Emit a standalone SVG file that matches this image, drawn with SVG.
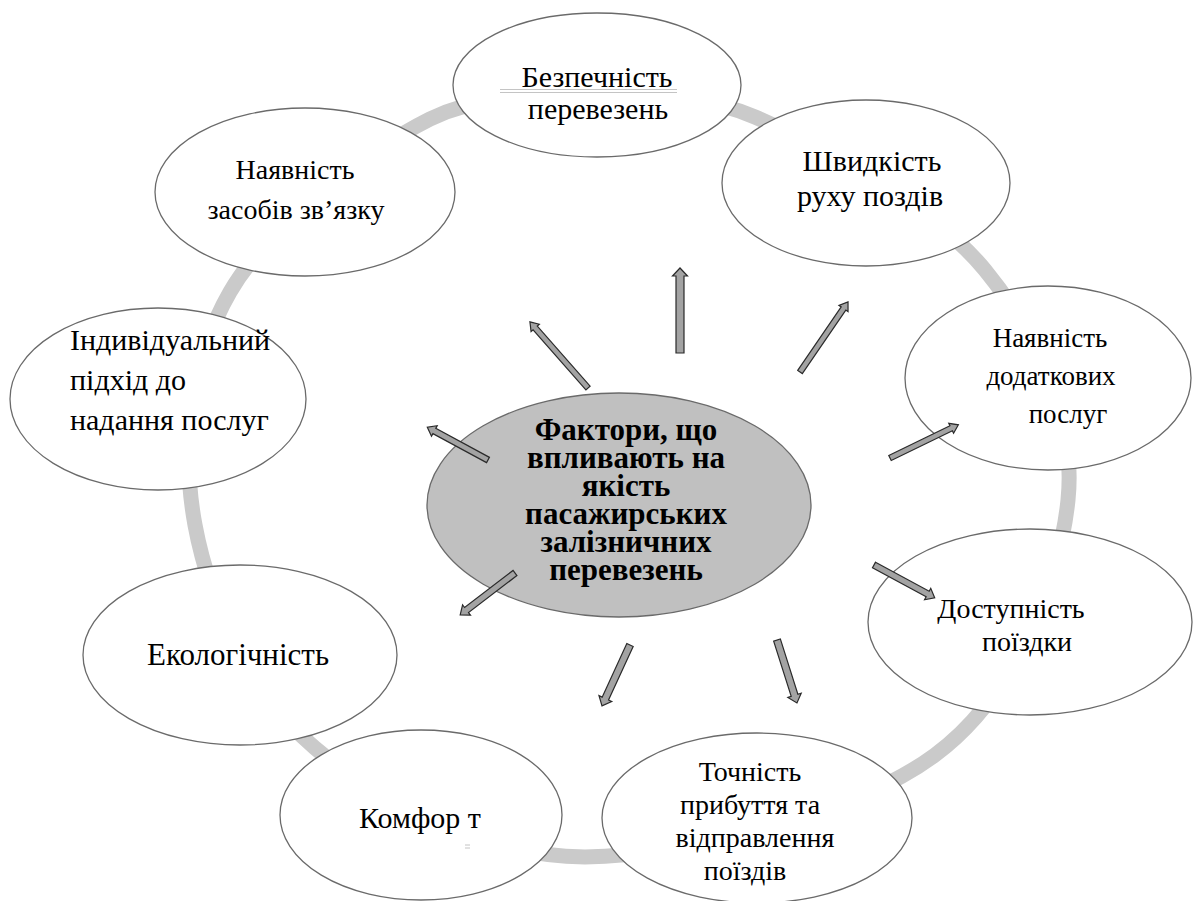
<svg xmlns="http://www.w3.org/2000/svg" width="1197" height="901" viewBox="0 0 1197 901">
<style>
.node{fill:#fff;stroke:#6a6a6a;stroke-width:1.3}
.t{font-family:"Liberation Serif","Times New Roman",serif;font-size:29px;fill:#000;text-anchor:middle}
.s27{font-size:27px}
.s28{font-size:28px}
.s30{font-size:30px}
.s31{font-size:31px}
.tl{text-anchor:start}
.c{font-family:"Liberation Serif","Times New Roman",serif;font-size:31px;font-weight:bold;fill:#000;text-anchor:middle}
.arr{fill:#a3a3a3;stroke:#2a2a2a;stroke-width:1.2;stroke-linejoin:miter}
.ring{fill:none;stroke:#cacaca;stroke-width:15}
.art{stroke:#c4c4c4;stroke-width:1;fill:none}
</style>
<rect width="1197" height="901" fill="#fff"/>
<g id="ring">
<path class="ring" d="M430,119 C491.7,88 545.8,106.3 600,106 C654.2,105.7 690.8,89.7 755,117 C819.2,144.3 932.8,206.2 985,270 C1037.2,333.8 1076.3,419.2 1068,500 C1059.7,580.8 1015.5,695.5 935,755 C854.5,814.5 688.3,855.8 585,857 C481.7,855.8 380,803.3 315,748 C250,692.7 209.2,601 195,525 C180.8,449 190.8,359.7 230,292 C269.2,224.3 368.3,150 430,119 Z"/>
</g>
<g id="n-bezpechnist">
<ellipse class="node" cx="597" cy="85" rx="144" ry="72"/>
<path class="art" d="M500,89.5 H677 M500,92.5 H677"/>
<text class="t s30" x="597" y="87">Безпечність</text>
<text class="t s30" x="598" y="119">перевезень</text>
</g>
<g id="n-zv">
<ellipse class="node" cx="305" cy="192" rx="150" ry="84"/>
<text class="t s28" x="295" y="179">Наявність</text>
<text class="t s28" x="296" y="219">засобів зв’язку</text>
</g>
<g id="n-shvydkist">
<ellipse class="node" cx="866" cy="183" rx="144" ry="83"/>
<text class="t s30" x="872" y="171">Швидкість</text>
<text class="t s30" x="870" y="206">руху поздів</text>
</g>
<g id="n-dodatkovi">
<ellipse class="node" cx="1048" cy="378" rx="143" ry="92"/>
<text class="t s27" x="1050" y="347">Наявність</text>
<text class="t s27" x="1051" y="385">додаткових</text>
<text class="t s27" x="1068" y="423">послуг</text>
</g>
<g id="n-indyv">
<ellipse class="node" cx="158" cy="399" rx="148" ry="91"/>
<text class="t tl s30" x="70" y="350">Індивідуальний</text>
<text class="t tl s30" x="70" y="390">підхід до</text>
<text class="t tl s30" x="70" y="430">надання послуг</text>
</g>
<g id="n-center">
<ellipse cx="619" cy="505" rx="192" ry="112" fill="#c0c0c0" stroke="#6a6a6a" stroke-width="1.3"/>
<text class="c" x="626" y="440">Фактори, що</text>
<text class="c" x="626" y="468">впливають на</text>
<text class="c" x="626" y="496">якість</text>
<text class="c" x="626" y="524">пасажирських</text>
<text class="c" x="626" y="552">залізничних</text>
<text class="c" x="626" y="580">перевезень</text>
</g>
<g id="n-dostupnist">
<ellipse class="node" cx="1030" cy="622" rx="162" ry="93"/>
<text class="t s28" x="1011" y="618">Доступність</text>
<text class="t s28" x="1027" y="651">поїздки</text>
</g>
<g id="n-ekolog">
<ellipse class="node" cx="240" cy="655" rx="157" ry="90"/>
<text class="t s31" x="238" y="665">Екологічність</text>
</g>
<g id="n-komfort">
<ellipse class="node" cx="421" cy="815" rx="141" ry="85"/>
<text class="t s30" x="420" y="828">Комфор т</text>
<path class="art" d="M465,845 H470 M465,848 H470"/>
</g>
<g id="n-tochnist">
<ellipse class="node" cx="757" cy="818" rx="155" ry="85"/>
<text class="t s28" x="750" y="781">Точність</text>
<text class="t s28" x="750" y="814">прибуття та</text>
<text class="t s28" x="755" y="847">відправлення</text>
<text class="t s28" x="745" y="880">поїздів</text>
</g>
<g id="connectors">
<path class="arr" transform="translate(680,353) rotate(-90)" d="M0,-4 H77 V-7.5 L85,0 L77,7.5 V4 H0 Z"/>
<path class="arr" transform="translate(800,372) rotate(-55.6)" d="M0,-2.8 H77 V-5.5 L85,0 L77,5.5 V2.8 H0 Z"/>
<path class="arr" transform="translate(588,388) rotate(-131.3)" d="M0,-2.8 H80 V-5.5 L88,0 L80,5.5 V2.8 H0 Z"/>
<path class="arr" transform="translate(488,460) rotate(-151.6)" d="M0,-3 H61 V-6 L69,0 L61,6 V3 H0 Z"/>
<path class="arr" transform="translate(890,458) rotate(-25.9)" d="M0,-2.8 H68 V-5.5 L76,0 L68,5.5 V2.8 H0 Z"/>
<path class="arr" transform="translate(874,565) rotate(28.4)" d="M0,-3.2 H61 V-6.5 L69,0 L61,6.5 V3.2 H0 Z"/>
<path class="arr" transform="translate(515,573) rotate(142.6)" d="M0,-3.2 H61 V-6.5 L69,0 L61,6.5 V3.2 H0 Z"/>
<path class="arr" transform="translate(630,645) rotate(114.7)" d="M0,-3.5 H59 V-7 L67,0 L59,7 V3.5 H0 Z"/>
<path class="arr" transform="translate(777,640) rotate(72.4)" d="M0,-3.5 H58 V-7 L66,0 L58,7 V3.5 H0 Z"/>
</g>
</svg>
